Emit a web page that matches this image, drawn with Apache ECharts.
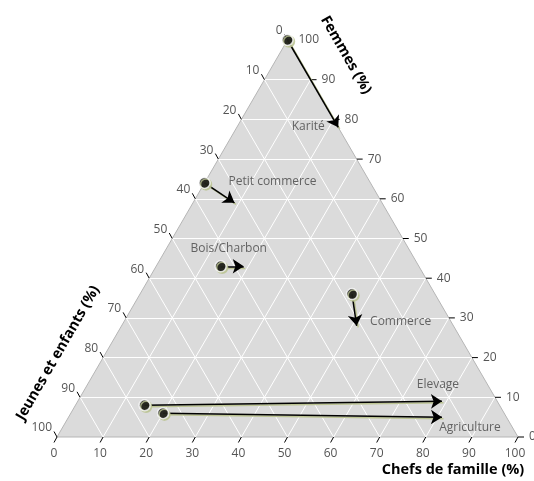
<!DOCTYPE html>
<html>
<head>
<meta charset="utf-8">
<script src="https://cdn.jsdelivr.net/npm/echarts@6/dist/echarts.min.js"></script>
<style>
  html, body { margin: 0; padding: 0; background: #fff; }
  #chart { width: 534px; height: 481px; }
</style>
</head>
<body>
<div id="chart"></div>
<script>
'use strict';
/* ternary chart: Chefs de famille / Femmes / Jeunes et enfants */

var categories = ['Karité', 'Petit commerce', 'Bois/Charbon', 'Commerce', 'Elevage', 'Agriculture'];
var chefsStart  = [0, 0, 14, 46, 15, 20];
var femmesStart = [100, 64, 43, 36, 8, 6];
var jeunesStart = [0, 36, 43, 18, 77, 74];
var chefsEnd  = [22, 9, 19, 51, 79, 81];
var femmesEnd = [78, 59, 43, 28, 9, 5];
var jeunesEnd = [0, 32, 38, 21, 12, 14];
var ticks = [0, 10, 20, 30, 40, 50, 60, 70, 80, 90, 100];

var H = Math.sqrt(3) / 2;
var FONT = '"Open Sans", "DejaVu Sans", sans-serif';
var SHADOW = '#bcc493';

// ternary (chefs, femmes) in % -> plane coords
function tern(c, f) {
  return [(c + f / 2) / 100, f / 100 * H];
}

// label offsets around arrow end (px)
var labelOffsets = [[-30, -1], [38, -21], [-15, -18], [44, -4], [-4, -17], [28, 10]];

var gridLines = [];
ticks.slice(1, -1).forEach(function(k) {
  gridLines.push({coords: [tern(0, k), tern(100 - k, k)]});
  gridLines.push({coords: [tern(k, 0), tern(k, 100 - k)]});
  gridLines.push({coords: [tern(100 - k, 0), tern(0, 100 - k)]});
});

var arrows = categories.map(function(name, i) {
  return {name: name, coords: [tern(chefsStart[i], femmesStart[i]), tern(chefsEnd[i], femmesEnd[i])]};
});
var starts = categories.map(function(name, i) {
  return {name: name, value: tern(chefsStart[i], femmesStart[i])};
});
var ends = categories.map(function(name, i) {
  return {
    name: name,
    value: tern(chefsEnd[i], femmesEnd[i]),
    label: {offset: labelOffsets[i]}
  };
});

function tickSeries(kind) {
  return {
    type: 'custom',
    coordinateSystem: 'cartesian2d',
    clip: false,
    silent: true,
    z: 3,
    data: ticks.map(function(t) { return [t]; }),
    renderItem: function(params, api) {
      var v = api.value(0);
      var p, q, tp, align;
      if (kind === 'bottom') {
        p = api.coord(tern(v, 0));
        q = [p[0] - 3, p[1] + 5.5];
        tp = [p[0] - 3, p[1] + 17];
        align = 'center';
      } else if (kind === 'right') {
        p = api.coord(tern(100 - v, v));
        q = [p[0] + 6, p[1]];
        tp = [p[0] + 11, p[1]];
        align = 'left';
      } else {
        p = api.coord(tern(0, 100 - v));
        q = [p[0] - 3, p[1] - 5.5];
        tp = [p[0] - 5, p[1] - 9];
        align = 'right';
      }
      return {
        type: 'group',
        children: [{
          type: 'line',
          shape: {x1: p[0], y1: p[1], x2: q[0], y2: q[1]},
          style: {stroke: '#000', lineWidth: 1}
        }, {
          type: 'text',
          x: tp[0], y: tp[1],
          style: {text: String(v), fill: '#555', font: '12px ' + FONT, align: align, verticalAlign: 'middle'}
        }]
      };
    }
  };
}

var chart = echarts.init(document.getElementById('chart'));
var option = {
  animation: false,
  grid: {left: 57, right: 16, top: 40, bottom: 44},
  xAxis: {type: 'value', min: 0, max: 1, show: false},
  yAxis: {type: 'value', min: 0, max: H, show: false},
  series: [{
    type: 'custom',
    coordinateSystem: 'cartesian2d',
    silent: true,
    z: 1,
    data: [[0]],
    renderItem: function(params, api) {
      return {
        type: 'polygon',
        shape: {points: [api.coord(tern(0, 0)), api.coord(tern(100, 0)), api.coord(tern(0, 100))]},
        style: {fill: '#dbdbdb', stroke: '#b5b5b5', lineWidth: 1}
      };
    }
  }, {
    type: 'lines',
    coordinateSystem: 'cartesian2d',
    silent: true,
    z: 2,
    lineStyle: {color: '#fff', width: 1, opacity: 1},
    data: gridLines
  },
  tickSeries('bottom'), tickSeries('right'), tickSeries('left'),
  {
    type: 'lines',
    coordinateSystem: 'cartesian2d',
    silent: true,
    z: 5,
    symbol: ['none', 'arrow'],
    symbolSize: 11,
    lineStyle: {color: '#000', width: 1.5, opacity: 1, shadowColor: SHADOW, shadowOffsetX: 1.5, shadowOffsetY: 1.5, shadowBlur: 0},
    data: arrows
  }, {
    type: 'scatter',
    silent: true,
    z: 6,
    symbolSize: 11,
    itemStyle: {color: '#000', borderColor: '#fff', borderWidth: 1.5, shadowColor: SHADOW, shadowOffsetX: 1.5, shadowOffsetY: 1.5, shadowBlur: 0},
    data: starts
  }, {
    type: 'scatter',
    silent: true,
    z: 7,
    symbolSize: 0,
    label: {
      show: true,
      position: 'inside',
      formatter: '{b}',
      color: '#444',
      fontSize: 12,
      fontFamily: FONT,
      align: 'center',
      verticalAlign: 'middle'
    },
    data: ends
  }],
  graphic: [{
    type: 'text', x: 453, y: 470,
    style: {text: 'Chefs de famille (%)', font: 'bold 14.5px ' + FONT, fill: '#000', align: 'center', verticalAlign: 'middle'}
  }, {
    type: 'text', x: 346, y: 55, rotation: -Math.PI / 3,
    style: {text: 'Femmes (%)', font: 'bold 14.5px ' + FONT, fill: '#000', align: 'center', verticalAlign: 'middle'}
  }, {
    type: 'text', x: 58, y: 353, rotation: Math.PI / 3,
    style: {text: 'Jeunes et enfants (%)', font: 'bold 14.5px ' + FONT, fill: '#000', align: 'center', verticalAlign: 'middle'}
  }]
};
chart.setOption(option);
</script>
</body>
</html>
